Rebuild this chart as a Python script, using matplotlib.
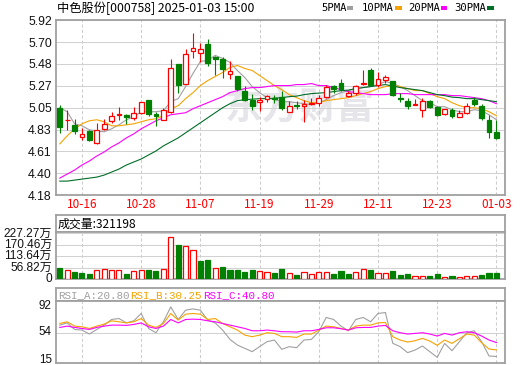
import matplotlib
matplotlib.use('Agg')
import matplotlib.pyplot as plt
from matplotlib.patches import Rectangle
import matplotlib.transforms as mtransforms
import numpy as np

W, H = 520, 365

title = '中色股份[000758] 2025-01-03 15:00'
date_pos = [3, 11, 19, 27, 35, 43, 51, 59]
date_labels = ['10-16', '10-28', '11-07', '11-19', '11-29', '12-11', '12-23', '01-03']

# daily k-line, 60 trading days
open_ = [5.05, 4.93, 4.88, 4.76, 4.82, 4.70, 4.84, 4.92, 4.98, 4.98,
         4.95, 5.00, 5.13, 4.99, 4.93, 5.01, 5.48, 5.29, 5.61, 5.59,
         5.68, 5.55, 5.53, 5.39, 5.37, 5.22, 5.13, 5.11, 5.14, 5.15,
         5.16, 5.01, 5.08, 5.07, 5.09, 5.10, 5.16, 5.27, 5.30, 5.17,
         5.20, 5.29, 5.42, 5.28, 5.33, 5.32, 5.15, 5.12, 5.08, 5.03,
         5.12, 5.06, 4.99, 5.03, 4.96, 5.00, 5.13, 5.07, 4.93, 4.81]
high = [5.08, 5.03, 4.94, 4.85, 4.83, 4.90, 4.94, 5.01, 5.06, 4.99,
        5.06, 5.11, 5.13, 5.01, 5.05, 5.53, 5.48, 5.63, 5.79, 5.69,
        5.73, 5.56, 5.55, 5.51, 5.37, 5.27, 5.19, 5.16, 5.18, 5.18,
        5.22, 5.12, 5.12, 5.13, 5.15, 5.18, 5.28, 5.28, 5.34, 5.22,
        5.28, 5.42, 5.44, 5.40, 5.38, 5.32, 5.20, 5.15, 5.14, 5.15,
        5.13, 5.07, 5.04, 5.05, 5.03, 5.10, 5.16, 5.09, 4.98, 4.93]
low = [4.80, 4.83, 4.79, 4.73, 4.72, 4.69, 4.83, 4.90, 4.93, 4.89,
       4.93, 4.99, 4.97, 4.87, 4.93, 5.00, 5.20, 5.29, 5.54, 5.50,
       5.46, 5.38, 5.35, 5.34, 5.22, 5.12, 5.03, 5.02, 5.11, 5.10,
       5.03, 5.01, 5.04, 4.91, 5.08, 5.07, 5.15, 5.20, 5.22, 5.16,
       5.18, 5.28, 5.27, 5.26, 5.30, 5.17, 5.11, 5.04, 5.08, 4.96,
       5.05, 4.97, 4.98, 4.95, 4.96, 4.99, 5.07, 4.93, 4.75, 4.74]
close = [4.86, 4.93, 4.82, 4.79, 4.73, 4.83, 4.89, 4.97, 4.99, 4.96,
         5.00, 5.11, 4.99, 4.97, 5.03, 5.44, 5.28, 5.58, 5.64, 5.63,
         5.49, 5.53, 5.43, 5.41, 5.24, 5.13, 5.07, 5.13, 5.17, 5.14,
         5.05, 5.07, 5.07, 5.09, 5.10, 5.15, 5.26, 5.24, 5.24, 5.20,
         5.27, 5.30, 5.28, 5.34, 5.36, 5.18, 5.14, 5.07, 5.09, 5.12,
         5.06, 4.98, 5.04, 4.97, 5.00, 5.07, 5.09, 4.95, 4.81, 4.75]

ma5 = [5.05, 5.01, 4.89, 4.87, 4.83, 4.82, 4.81, 4.84, 4.88, 4.93,
       4.96, 5.01, 5.01, 5.01, 5.02, 5.11, 5.14, 5.26, 5.39, 5.51,
       5.52, 5.57, 5.54, 5.50, 5.42, 5.35, 5.26, 5.20, 5.15, 5.13,
       5.11, 5.11, 5.10, 5.09, 5.08, 5.10, 5.13, 5.17, 5.20, 5.22,
       5.24, 5.25, 5.26, 5.28, 5.31, 5.29, 5.26, 5.22, 5.17, 5.12,
       5.10, 5.06, 5.06, 5.03, 5.01, 5.01, 5.03, 5.02, 4.98, 4.93]
ma10 = [4.69, 4.77, 4.84, 4.89, 4.92, 4.93, 4.91, 4.87, 4.87, 4.88,
        4.89, 4.91, 4.93, 4.94, 4.97, 5.04, 5.07, 5.14, 5.20, 5.27,
        5.32, 5.36, 5.40, 5.45, 5.47, 5.44, 5.42, 5.37, 5.32, 5.27,
        5.23, 5.18, 5.15, 5.12, 5.10, 5.10, 5.12, 5.13, 5.14, 5.15,
        5.17, 5.19, 5.21, 5.24, 5.26, 5.27, 5.26, 5.24, 5.22, 5.22,
        5.19, 5.16, 5.14, 5.10, 5.07, 5.05, 5.05, 5.04, 5.01, 4.97]
ma20 = [4.35, 4.39, 4.43, 4.48, 4.52, 4.57, 4.61, 4.66, 4.70, 4.75,
        4.79, 4.84, 4.88, 4.92, 4.95, 4.98, 4.99, 5.00, 5.04, 5.07,
        5.10, 5.13, 5.16, 5.20, 5.22, 5.24, 5.25, 5.25, 5.26, 5.27,
        5.27, 5.27, 5.28, 5.28, 5.29, 5.27, 5.27, 5.25, 5.23, 5.21,
        5.20, 5.19, 5.18, 5.18, 5.18, 5.19, 5.19, 5.19, 5.18, 5.18,
        5.18, 5.18, 5.18, 5.17, 5.17, 5.16, 5.15, 5.14, 5.12, 5.09]
ma30 = [4.32, 4.32, 4.33, 4.34, 4.35, 4.36, 4.38, 4.41, 4.44, 4.48,
        4.51, 4.54, 4.58, 4.62, 4.67, 4.71, 4.75, 4.80, 4.85, 4.90,
        4.95, 5.00, 5.05, 5.09, 5.12, 5.13, 5.135, 5.14, 5.14, 5.145,
        5.15, 5.16, 5.165, 5.18, 5.19, 5.195, 5.20, 5.21, 5.22, 5.225,
        5.24, 5.25, 5.26, 5.27, 5.28, 5.265, 5.25, 5.24, 5.23, 5.22,
        5.20, 5.18, 5.17, 5.155, 5.15, 5.14, 5.14, 5.13, 5.12, 5.11]

# volume in 万手
volume = [57, 47, 38, 33, 27, 47, 50, 47, 47, 27,
          42, 47, 47, 42, 50, 210, 172, 165, 147, 92,
          97, 58, 60, 47, 47, 38, 47, 43, 35, 32,
          52, 30, 22, 35, 27, 35, 35, 27, 42, 27,
          35, 50, 47, 30, 30, 42, 22, 27, 18, 18,
          17, 27, 13, 17, 10, 18, 18, 22, 32, 32.12]
last_volume = 321198
first_vol_up = False

rsi_a = [65.8, 69, 59.6, 58.7, 53, 59.6, 65.8, 73.9, 75.3, 69,
         72, 82.5, 61, 54.9, 70.6, 92, 73.9, 87.2, 89.1, 87.2,
         73, 69, 58.7, 45.3, 37.2, 32.5, 27.7, 34.9, 42, 44.4,
         31, 34.9, 33.4, 44.4, 45.3, 56.3, 76.8, 73.9, 64.4, 57.7,
         73.9, 76.8, 70.6, 82.5, 83.9, 39.6, 34.9, 26.3, 30, 35.8,
         27.7, 19.6, 39.6, 29.1, 42, 54.9, 57.7, 42, 21.5, 20.8]
rsi_b = [68.2, 70.6, 64.4, 63.4, 61, 64.4, 67.2, 72, 70.6, 69,
         70.6, 75.3, 65.8, 62.5, 68.2, 82.5, 73, 81.5, 82.5, 81.5,
         73.9, 75.3, 68.2, 63.4, 58.7, 51.5, 49.2, 51.5, 54.9, 53.9,
         49.2, 49.2, 48.2, 53, 53, 58.7, 64.4, 63.4, 61, 58.7,
         64.4, 65.8, 65.8, 69, 69.6, 49.2, 44.4, 41.5, 43.4, 46.8,
         42.9, 36.8, 44.4, 39.6, 46.3, 53, 51.5, 40.6, 31.5, 30.25]
rsi_c = [62.5, 64.4, 62.5, 61, 59.6, 62.5, 64.4, 65.8, 65.8, 65.4,
         66.8, 69, 63.4, 61, 64.4, 73.9, 69, 73.9, 74.4, 73.9,
         72, 70.6, 68.2, 65.8, 63.4, 61, 57.7, 57.7, 58.7, 57.7,
         56.3, 56.3, 55.8, 57.7, 57.7, 59.6, 62, 62, 60.6, 58.7,
         62, 62.5, 62.5, 64.4, 65.4, 57.7, 54.9, 53, 53.9, 54.9,
         53, 50.1, 53.9, 51.5, 54.9, 56.3, 54.9, 50.1, 44.4, 40.8]

price_tick_labels = ['4.18', '4.40', '4.61', '4.83', '5.05', '5.27', '5.48', '5.70', '5.92']
vol_ticks = [0, 56.82, 113.64, 170.46, 227.27]
vol_tick_labels = ['0', '56.82万', '113.64万', '170.46万', '227.27万']
rsi_ticks = [15, 54, 92]

RED = '#ff0000'
GREEN = '#008000'
BORDER = '#a0a0a0'
MA_COLORS = ['#a0a0a0', '#f5a300', '#ff00ff', '#006e28']
RSI_COLORS = ['#a0a0a0', '#f5a300', '#ff00ff']
CJK = ['Noto Sans CJK SC', 'DejaVu Sans']
NUM = ['Liberation Sans', 'Noto Sans CJK SC']

fig = plt.figure(figsize=(W / 100, H / 100), dpi=100)
fig.patch.set_facecolor('white')


def box(x0, y0, x1, y1):
    ax = fig.add_axes([x0 / W, 1 - y1 / H, (x1 - x0) / W, (y1 - y0) / H])
    for s in ax.spines.values():
        s.set_color(BORDER)
        s.set_linewidth(1.3)
    ax.tick_params(length=0)
    return ax


def vgrid(ax):
    ax.set_xticks(date_pos)
    ax.grid(axis='x', color='#cccccc', lw=0.75, linestyle=(0, (3, 2.2)), zorder=0)
    ax.set_axisbelow(True)


def lift(ax, px):
    # nudge y tick labels up by px pixels
    off = mtransforms.ScaledTranslation(0, px / 100, fig.dpi_scale_trans)
    for lab in ax.get_yticklabels():
        lab.set_transform(lab.get_transform() + off)


n = len(close)
idx = np.arange(n)
o = np.array(open_)
c = np.array(close)
up = c >= o
xlim = (-0.51, 60.16)

# ---------------- price panel
ax = box(56, 20.2, 505, 195.2)
ax.set_xlim(*xlim)
ax.set_ylim(4.18, 5.92)
vgrid(ax)
ax.set_xticklabels(date_labels, color=RED, fontsize=8.5, family=CJK)
ax.tick_params(axis='x', pad=2)
ax.set_yticks(np.linspace(4.18, 5.92, 9))
ax.set_yticklabels(price_tick_labels, fontsize=8.8, family=NUM, color='#111111')
ax.tick_params(axis='y', pad=3)
ax.grid(axis='y', color='#d2d2d2', lw=0.75, linestyle='-', zorder=0)

ax.text(300 / W, 1 - 108 / H, '东方财富', transform=fig.transFigure, ha='center', va='center',
        fontsize=27, fontweight='bold', color='#e6e6ea', family=CJK, zorder=0.5)

for ma, col in zip([ma5, ma10, ma20, ma30], MA_COLORS):
    ax.plot(idx, ma, color=col, lw=0.8, zorder=2)

bw = 0.66
cols = np.where(up, RED, GREEN)
ax.vlines(idx, low, high, colors=cols, lw=0.8, zorder=3)
body_lo = np.minimum(o, c)
body_h = np.maximum(np.abs(c - o), 0.002)
ax.bar(idx, body_h, bw, bottom=body_lo, facecolor=np.where(up, 'white', GREEN),
       edgecolor=cols, lw=0.9, zorder=4)

fig.text(57 / W, 1 - 8.3 / H, title, fontsize=8.8, family=CJK, va='center', ha='left')
legend_items = [('5PMA', 321.7, 346.7), ('10PMA', 362, 395), ('20PMA', 408, 440.7), ('30PMA', 454, 487)]
for (lab, tx, sx), col in zip(legend_items, MA_COLORS):
    fig.text(tx / W, 1 - 7.8 / H, lab, fontsize=7.6, family='DejaVu Sans Mono', va='center', ha='left')
    fig.add_artist(Rectangle((sx / W, 1 - 9.6 / H), 6.5 / W, 3.4 / H, transform=fig.transFigure,
                             facecolor=col, edgecolor='none'))

# ---------------- volume panel
axvt = box(56, 215, 505, 232.3)
axvt.set_xticks([])
axvt.set_yticks([])
axvt.text(2 / 449, 0.5, '成交量:%d' % last_volume, transform=axvt.transAxes, va='center', ha='left',
          fontsize=8.6, family=CJK)

axv = box(56, 232.3, 505, 279.3)
axv.set_xlim(*xlim)
axv.set_ylim(0, 233)
vgrid(axv)
axv.set_xticklabels([])
axv.set_yticks(vol_ticks)
axv.set_yticklabels(vol_tick_labels, fontsize=8.6, family=NUM, color='#111111')
axv.tick_params(axis='y', pad=3)
axv.grid(axis='y', color='#d2d2d2', lw=0.75, linestyle='-', zorder=0)
lift(axv, 1.5)
vol_up = np.r_[first_vol_up, c[1:] > c[:-1]]
vcols = np.where(vol_up, RED, GREEN)
axv.bar(idx, volume, 0.68, facecolor=np.where(vol_up, 'white', GREEN), edgecolor=vcols, lw=0.9, zorder=3)

# ---------------- RSI panel
axrt = box(56, 288.3, 505, 301.3)
axrt.set_xticks([])
axrt.set_yticks([])
rsi_titles = [('RSI_A:%.2f' % rsi_a[-1], 58), ('RSI_B:%.2f' % rsi_b[-1], 130), ('RSI_C:%.2f' % rsi_c[-1], 203)]
for (t, tx), col in zip(rsi_titles, RSI_COLORS):
    fig.text(tx / W, 1 - 295 / H, t, color=col, fontsize=7.8, family='Liberation Mono', va='center', ha='left')

axr = box(56, 301.3, 505, 363.3)
axr.set_xlim(*xlim)
axr.set_ylim(11, 100)
vgrid(axr)
axr.set_xticklabels([])
axr.set_yticks(rsi_ticks)
axr.set_yticklabels([str(t) for t in rsi_ticks], fontsize=8.4, family=NUM, color='#111111')
axr.tick_params(axis='y', pad=3)
lift(axr, 2.5)
axr.axhline(54, color='#d2d2d2', lw=0.75, zorder=0)
for r, col in zip([rsi_a, rsi_b, rsi_c], RSI_COLORS):
    axr.plot(idx, r, color=col, lw=0.8, zorder=2)

fig.savefig('out.png', dpi=100, facecolor='white')
